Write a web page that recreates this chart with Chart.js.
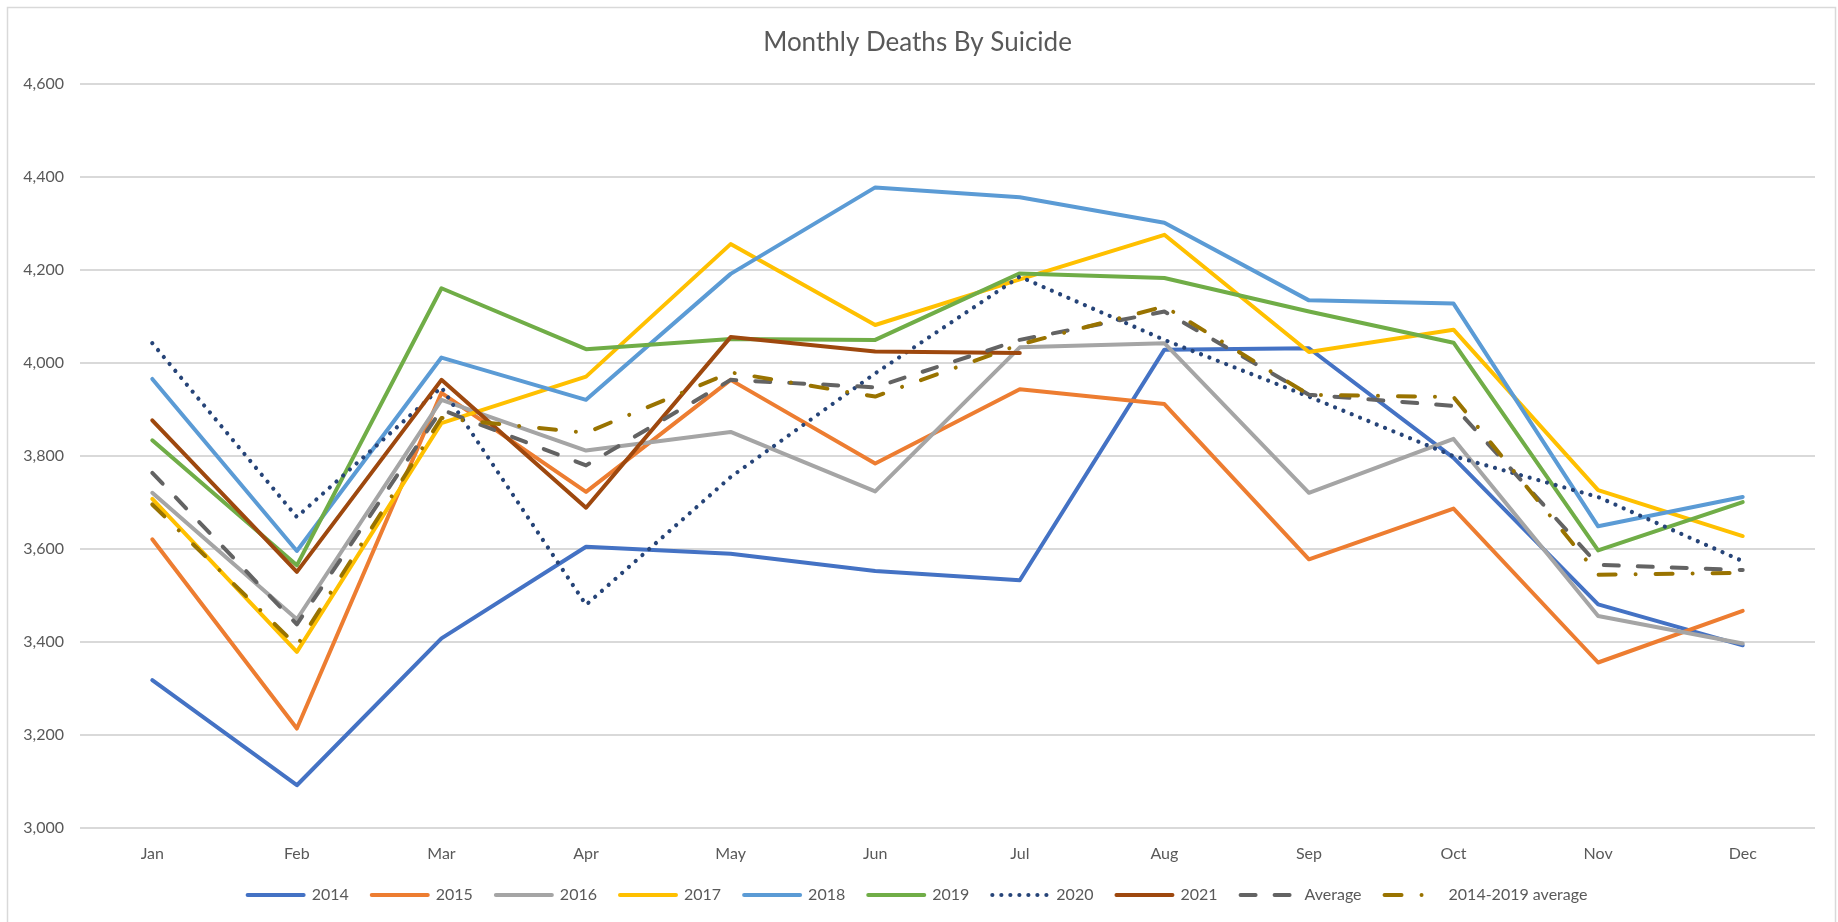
<!DOCTYPE html>
<html>
<head>
<meta charset="utf-8">
<title>Monthly Deaths By Suicide</title>
<script src="https://cdn.jsdelivr.net/npm/chart.js@4.4.1/dist/chart.umd.min.js"></script>
<style>
  html, body { margin: 0; padding: 0; background: #fff; }
  #wrap { width: 1838px; height: 922px; position: relative; }
</style>
</head>
<body>
<div id="wrap"><canvas id="chart-suicide"></canvas></div>
<script>
  /* ===================== DATA ===================== */
  const months = ["Jan", "Feb", "Mar", "Apr", "May", "Jun", "Jul", "Aug", "Sep", "Oct", "Nov", "Dec"];

  const deaths2014 = [3318, 3092, 3408, 3605, 3590, 3553, 3533, 4029, 4032, 3796, 3481, 3393];
  const deaths2015 = [3621, 3214, 3936, 3723, 3964, 3784, 3944, 3912, 3578, 3687, 3356, 3467];
  const deaths2016 = [3721, 3449, 3921, 3812, 3852, 3724, 4034, 4043, 3721, 3837, 3456, 3397];
  const deaths2017 = [3708, 3379, 3871, 3971, 4256, 4082, 4180, 4276, 4024, 4072, 3727, 3628];
  const deaths2018 = [3966, 3596, 4012, 3921, 4192, 4378, 4357, 4302, 4135, 4128, 3649, 3712];
  const deaths2019 = [3834, 3565, 4161, 4030, 4052, 4050, 4193, 4183, 4111, 4044, 3597, 3701];
  const deaths2020 = [4043, 3669, 3948, 3480, 3755, 3978, 4186, 4050, 3928, 3800, 3712, 3574];
  const deaths2021 = [3877, 3551, 3964, 3689, 4056, 4025, 4022];
  const averageAll = [3764, 3438, 3900, 3780, 3964, 3948, 4050, 4111, 3932, 3908, 3566, 3555];
  const average1419 = [3696, 3392, 3882, 3850, 3980, 3928, 4040, 4122, 3932, 3927, 3545, 3549];

  const yTicks = { min: 3000, max: 4600, step: 200 };

  /* ===================== DOM ===================== */
  /** @type {HTMLCanvasElement} */
  const ctx = document.getElementById("chart-suicide").getContext("2d");

  const textGray = "#595959";
  const font = "Lato, 'Open Sans', sans-serif";

  let serie = (label, data, color, extra) => Object.assign({
    label: label,
    data: data,
    borderColor: color,
    backgroundColor: color,
    borderWidth: 4,
    borderCapStyle: "round",
    borderJoinStyle: "round",
    pointRadius: 0,
    pointHoverRadius: 0,
    tension: 0,
    fill: false
  }, extra || {});

  const datasets = [
    serie("2014", deaths2014, "#4472C4"),
    serie("2015", deaths2015, "#ED7D31"),
    serie("2016", deaths2016, "#A5A5A5"),
    serie("2017", deaths2017, "#FFC000"),
    serie("2018", deaths2018, "#5B9BD5"),
    serie("2019", deaths2019, "#70AD47"),
    serie("2020", deaths2020, "#264478", { borderWidth: 4.2, borderDash: [0.01, 9] }),
    serie("2021", deaths2021, "#9E480E"),
    serie("Average", averageAll, "#636363", { borderDash: [15, 19] }),
    serie("2014-2019 average", average1419, "#997300", { borderDash: [17, 20, 0.01, 20] })
  ];
  // excel draws the later series on top
  datasets.forEach((d, i) => d.order = -i);

  const chartFrame = {
    id: "chartFrame",
    beforeDraw(chart) {
      const c = chart.ctx;
      c.save();
      c.fillStyle = "#fff";
      c.fillRect(0, 0, chart.width, chart.height);
      c.strokeStyle = "#d9d9d9";
      c.lineWidth = 1.5;
      c.strokeRect(7.5, 7.5, chart.width - 10, chart.height - 6);
      c.restore();
    }
  };

  // legend samples keep the dash pattern of their series
  let legendLabels = (chart) => {
    const items = Chart.defaults.plugins.legend.labels.generateLabels(chart);
    items.forEach(it => {
      const ds = chart.data.datasets[it.datasetIndex];
      it.lineDash = ds.borderDash || [];
      it.lineCap = ds.borderCapStyle;
      it.lineWidth = ds.borderWidth;
      it.strokeStyle = ds.borderColor;
    });
    return items.sort((a, b) => a.datasetIndex - b.datasetIndex);
  };

  let chart = new Chart(ctx, {
    type: "line",
    data: { labels: months, datasets: datasets },
    plugins: [chartFrame],
    options: {
      responsive: true,
      maintainAspectRatio: false,
      animation: false,
      layout: { padding: { left: 20, right: 23, top: 8, bottom: 9 } },
      plugins: {
        title: {
          display: true,
          text: "Monthly Deaths By Suicide",
          color: textGray,
          font: { family: font, size: 26, weight: "normal" },
          padding: { top: 19, bottom: 26 }
        },
        legend: {
          position: "bottom",
          labels: {
            color: textGray,
            font: { family: font, size: 16 },
            usePointStyle: true,
            pointStyle: "line",
            pointStyleWidth: 56,
            padding: 23,
            generateLabels: legendLabels
          }
        },
        tooltip: { enabled: false }
      },
      scales: {
        x: {
          offset: true,
          grid: { display: false, drawTicks: false },
          border: { display: false },
          ticks: { color: textGray, font: { family: font, size: 16 }, padding: 16 },
          afterFit: (scale) => { scale.height = 36; }
        },
        y: {
          min: yTicks.min,
          max: yTicks.max,
          grid: { color: "#d9d9d9", lineWidth: 2, drawTicks: false },
          border: { display: false },
          ticks: {
            stepSize: yTicks.step,
            color: textGray,
            font: { family: font, size: 16 },
            padding: 16,
            callback: (v) => v.toLocaleString("en-US")
          },
          afterFit: (scale) => { scale.width = 60; }
        }
      }
    }
  });
</script>
</body>
</html>
